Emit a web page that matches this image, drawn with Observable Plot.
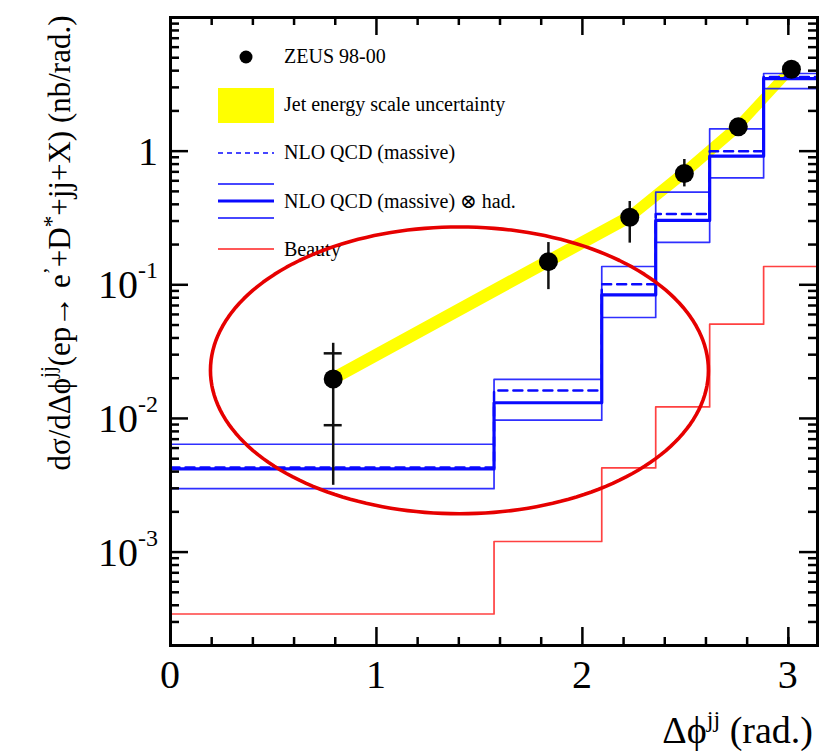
<!DOCTYPE html>
<html>
<head>
<meta charset="utf-8">
<script src="https://cdn.jsdelivr.net/npm/d3@7"></script>
<script src="https://cdn.jsdelivr.net/npm/@observablehq/plot@0.6"></script>
<style>
  html, body { margin: 0; padding: 0; background: #fff; }
  #chart svg { display: block; }
  #chart svg text, #chart svg tspan { font-family: "Liberation Serif", "DejaVu Serif", serif; }
</style>
</head>
<body>
<div id="chart"></div>
<script>
// Δϕ^jj bin edges (rad.)
const binEdges = [0, 1.571, 2.094, 2.356, 2.618, 2.880, 3.1416];

// Theory predictions per bin (nb/rad.)
const nloMassive   = [0.00429, 0.0162, 0.101, 0.339, 1.00, 3.59];
const nloHad       = [0.00419, 0.0131, 0.084, 0.303, 0.917, 3.49];
const nloHadUp     = [0.00641, 0.0196, 0.137, 0.493, 1.47, 3.81];
const nloHadDown   = [0.00298, 0.0097, 0.0569, 0.208, 0.63, 2.94];
const beauty       = [0.000344, 0.0012, 0.00426, 0.0122, 0.0507, 0.137];

// ZEUS 98-00 measurement
const zeusX        = [0.79, 1.835, 2.23, 2.495, 2.757, 3.015];
const zeusY        = [0.0197, 0.149, 0.32, 0.68, 1.52, 4.1];
const zeusTotLow   = [0.00316, 0.092, 0.205, 0.54, 1.36, 3.75];
const zeusTotHigh  = [0.0365, 0.207, 0.42, 0.866, 1.70, 4.5];
const zeusStatLow  = [0.0089, null, null, null, null, null];
const zeusStatHigh = [0.0307, null, null, null, null, null];

// Jet energy scale uncertainty band
const jesLow       = [0.0174, 0.132, 0.283, 0.60, 1.34, 3.62];
const jesHigh      = [0.0222, 0.168, 0.360, 0.77, 1.71, 4.6];

// Axis ticks
const yMajor = [1e-3, 1e-2, 1e-1, 1];
const yMajorLabels = [["10", "-3"], ["10", "-2"], ["10", "-1"], ["1", ""]];
const yMinor = [3e-4, 4e-4, 5e-4, 6e-4, 7e-4, 8e-4, 9e-4,
                2e-3, 3e-3, 4e-3, 5e-3, 6e-3, 7e-3, 8e-3, 9e-3,
                2e-2, 3e-2, 4e-2, 5e-2, 6e-2, 7e-2, 8e-2, 9e-2,
                0.2, 0.3, 0.4, 0.5, 0.6, 0.7, 0.8, 0.9,
                2, 3, 4, 5, 6, 7, 8, 9];
const xMajor = [0, 1, 2, 3];
const xMinor = [0.2, 0.4, 0.6, 0.8, 1.2, 1.4, 1.6, 1.8, 2.2, 2.4, 2.6, 2.8, 3.0];

// Legend entries
const legendLabels = ["ZEUS 98-00", "Jet energy scale uncertainty", "NLO QCD (massive)",
                      "NLO QCD (massive) ⊗ had.", "Beauty"];

// Highlight ellipse (centre in data units, radii in rad. and decades)
const highlight = {cx: 1.403, cy: 0.0229, rx: 1.209, ryDecades: 1.073};

const W = 821, H = 751;
const M = {top: 17, right: 4, bottom: 106, left: 170};
const plotW = W - M.left - M.right;
const plotH = H - M.top - M.bottom;

const step = (vals) => binEdges.map((e, i) => ({x: e, y: vals[Math.min(i, vals.length - 1)]}));
const idx = zeusX.map((_, i) => i);
const statIdx = idx.filter(i => zeusStatLow[i] != null);
const ellipsePts = d3.range(0, 361, 2).map(a => {
  const t = a * Math.PI / 180;
  return {x: highlight.cx + highlight.rx * Math.cos(t),
          y: highlight.cy * Math.pow(10, highlight.ryDecades * Math.sin(t))};
});

const BLUE = "#0a0aff";
const RED = "#ff2020";

const chart = Plot.plot({
  width: W, height: H,
  marginTop: M.top, marginRight: M.right, marginBottom: M.bottom, marginLeft: M.left,
  x: {domain: [0, 3.1416], axis: null},
  y: {type: "log", domain: [2e-4, 10], axis: null},
  style: {background: "white", fontFamily: "'Liberation Serif', serif"},
  marks: [
    Plot.areaY(idx, {x: i => zeusX[i], y1: i => jesLow[i], y2: i => jesHigh[i], fill: "#ffff00"}),
    Plot.line(step(nloHadUp),   {x: "x", y: "y", curve: "step-after", stroke: BLUE, strokeWidth: 1.7, strokeOpacity: 0.85}),
    Plot.line(step(nloHadDown), {x: "x", y: "y", curve: "step-after", stroke: BLUE, strokeWidth: 1.7, strokeOpacity: 0.85}),
    Plot.line(step(nloHad),     {x: "x", y: "y", curve: "step-after", stroke: BLUE, strokeWidth: 3.2}),
    Plot.line(step(nloMassive), {x: "x", y: "y", curve: "step-after", stroke: BLUE, strokeWidth: 2.5, strokeDasharray: "9,6"}),
    Plot.line(step(beauty),     {x: "x", y: "y", curve: "step-after", stroke: RED, strokeWidth: 1.7, strokeOpacity: 0.85}),
    Plot.ruleX(idx, {x: i => zeusX[i], y1: i => zeusTotLow[i], y2: i => zeusTotHigh[i], stroke: "#111", strokeWidth: 2.5}),
    Plot.ruleY(statIdx, {y: i => zeusStatLow[i], x1: i => zeusX[i], x2: i => zeusX[i], insetLeft: -9, insetRight: -9, stroke: "#111", strokeWidth: 2.5}),
    Plot.ruleY(statIdx, {y: i => zeusStatHigh[i], x1: i => zeusX[i], x2: i => zeusX[i], insetLeft: -9, insetRight: -9, stroke: "#111", strokeWidth: 2.5}),
    Plot.dot(idx, {x: i => zeusX[i], y: i => zeusY[i], r: 9.5, fill: "black", stroke: "none"}),
    // inward ticks on all four sides
    Plot.tickY(yMajor, {y: d => d, insetRight: plotW - 18, stroke: "black", strokeWidth: 2.5}),
    Plot.tickY(yMajor, {y: d => d, insetLeft: plotW - 18, stroke: "black", strokeWidth: 2.5}),
    Plot.tickY(yMinor, {y: d => d, insetRight: plotW - 9, stroke: "black", strokeWidth: 2.5}),
    Plot.tickY(yMinor, {y: d => d, insetLeft: plotW - 9, stroke: "black", strokeWidth: 2.5}),
    Plot.tickX(xMajor, {x: d => d, insetTop: plotH - 18, stroke: "black", strokeWidth: 2.5}),
    Plot.tickX(xMajor, {x: d => d, insetBottom: plotH - 18, stroke: "black", strokeWidth: 2.5}),
    Plot.tickX(xMinor, {x: d => d, insetTop: plotH - 8, stroke: "black", strokeWidth: 2.5}),
    Plot.tickX(xMinor, {x: d => d, insetBottom: plotH - 8, stroke: "black", strokeWidth: 2.5}),
    Plot.frame({stroke: "black", strokeWidth: 3}),
    // highlight ellipse, drawn last
    Plot.line(ellipsePts, {x: "x", y: "y", stroke: "#e60000", strokeWidth: 3.6})
  ]
});

document.getElementById("chart").appendChild(chart);

const svg = d3.select(chart);
const sx = chart.scale("x"), sy = chart.scale("y");
const FONT = "'Liberation Serif', 'DejaVu Serif', serif";
const lineGroups = chart.querySelectorAll("g[aria-label='line']");
const ellipseNode = lineGroups[lineGroups.length - 1];

// Y tick labels: 10^n with raised exponent
const yl = svg.append("g").style("font-family", FONT).attr("fill", "black");
yMajor.forEach((v, i) => {
  const [base, exp] = yMajorLabels[i];
  const t = yl.append("text")
    .attr("x", 158).attr("y", sy.apply(v) + 14)
    .attr("text-anchor", "end").attr("font-size", 40);
  t.append("tspan").text(base);
  if (exp) t.append("tspan").attr("font-size", 24).attr("dy", -20).text(exp);
});

// X tick labels
const xl = svg.append("g").style("font-family", FONT).attr("fill", "black");
xMajor.forEach(v => {
  xl.append("text").attr("x", sx.apply(v)).attr("y", 688)
    .attr("text-anchor", "middle").attr("font-size", 40).text(String(v));
});

// X axis title
const xt = svg.append("text").style("font-family", FONT).attr("font-size", 38)
  .attr("x", 813).attr("y", 743).attr("text-anchor", "end");
xt.append("tspan").text("Δϕ");
xt.append("tspan").attr("font-size", 24).attr("dy", -16).text("jj");
xt.append("tspan").attr("dy", 16).text(" (rad.)");

// Y axis title
const yt = svg.append("text").style("font-family", FONT).attr("font-size", 31)
  .attr("text-anchor", "middle").attr("transform", "translate(70,243) rotate(-90)");
yt.append("tspan").text("dσ/dΔϕ");
yt.append("tspan").attr("font-size", 21).attr("dy", -15).text("jj");
yt.append("tspan").attr("dy", 15).text("(ep→ e");
yt.append("tspan").attr("font-size", 21).attr("dy", -12).text("’");
yt.append("tspan").attr("dy", 12).text("+D");
yt.append("tspan").attr("font-size", 23).attr("dy", -11).text("*");
yt.append("tspan").attr("dy", 11).text("+jj+X) (nb/rad.)");

// Legend, placed beneath the highlight ellipse
const lg = d3.select(chart.insertBefore(document.createElementNS("http://www.w3.org/2000/svg", "g"), ellipseNode))
  .style("font-family", FONT).attr("font-size", 20).attr("fill", "black").attr("text-anchor", "start");
const lx0 = 218, lx1 = 274, tx = 284;
lg.append("circle").attr("cx", 246).attr("cy", 57).attr("r", 6.5).attr("fill", "black");
lg.append("text").attr("x", tx).attr("y", 63).text(legendLabels[0]);
lg.append("rect").attr("x", lx0).attr("y", 88).attr("width", lx1 - lx0).attr("height", 35).attr("fill", "#ffff00");
lg.append("text").attr("x", tx).attr("y", 111).text(legendLabels[1]);
lg.append("line").attr("x1", lx0).attr("x2", lx1).attr("y1", 153).attr("y2", 153)
  .attr("stroke", BLUE).attr("stroke-width", 1.6).attr("stroke-dasharray", "5,4");
lg.append("text").attr("x", tx).attr("y", 159).text(legendLabels[2]);
[[184, 1.5], [201, 2.8], [218, 1.5]].forEach(([y, w]) => {
  lg.append("line").attr("x1", lx0).attr("x2", lx1).attr("y1", y).attr("y2", y)
    .attr("stroke", BLUE).attr("stroke-width", w);
});
lg.append("text").attr("x", tx).attr("y", 208).text(legendLabels[3]);
lg.append("line").attr("x1", lx0).attr("x2", lx1).attr("y1", 249).attr("y2", 249)
  .attr("stroke", RED).attr("stroke-width", 1.5);
lg.append("text").attr("x", tx).attr("y", 256).text(legendLabels[4]);
</script>
</body>
</html>
